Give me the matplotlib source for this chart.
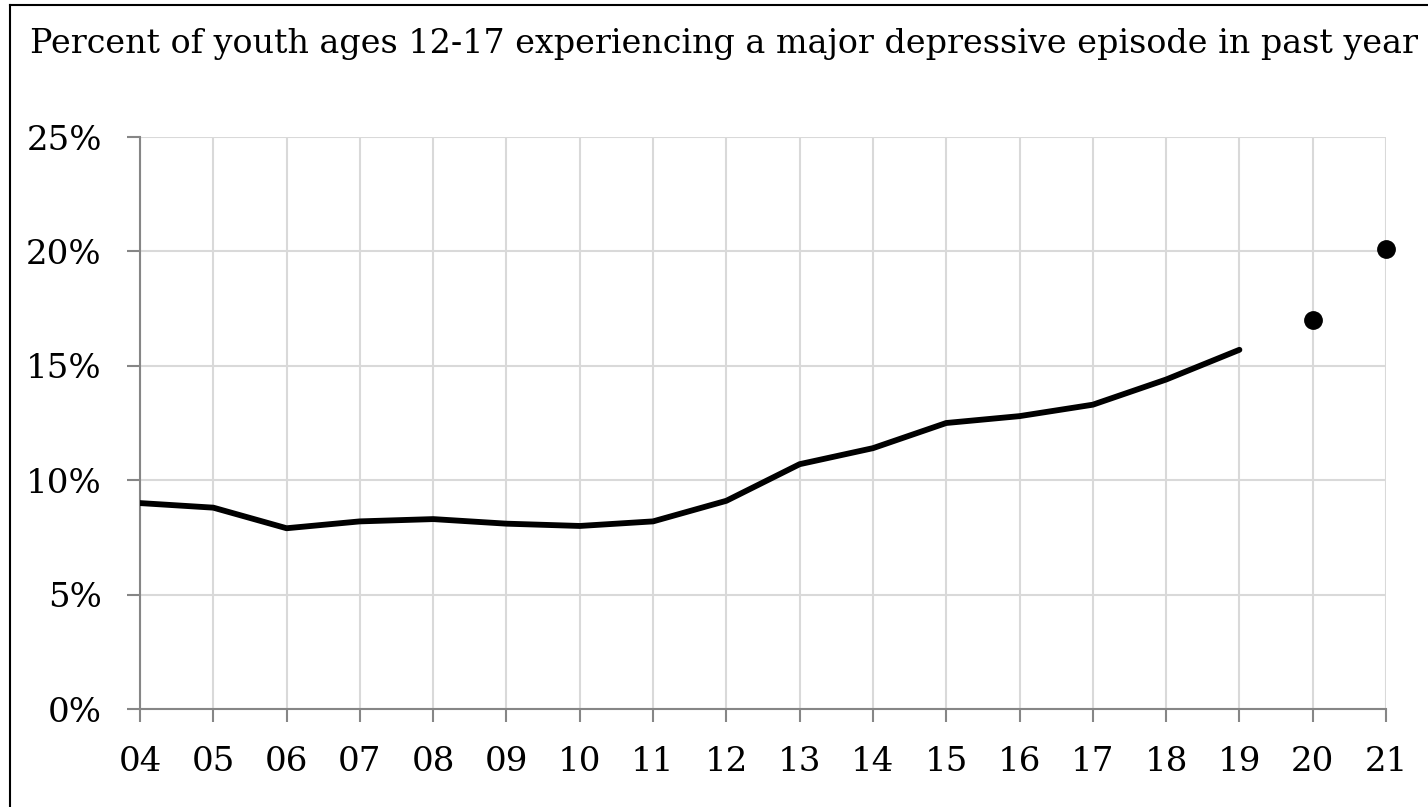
import matplotlib
matplotlib.use('Agg')
import matplotlib.pyplot as plt
from matplotlib.lines import Line2D

plt.rcParams['font.family'] = ['DejaVu Serif']

# data
years = ['04', '05', '06', '07', '08', '09', '10', '11', '12',
         '13', '14', '15', '16', '17', '18', '19', '20', '21']
line_vals = [9.0, 8.8, 7.9, 8.2, 8.3, 8.1, 8.0, 8.2, 9.1,
             10.7, 11.4, 12.5, 12.8, 13.3, 14.4, 15.7]
dot_vals = [17.0, 20.1]
yticks = [0, 5, 10, 15, 20, 25]
title = 'Percent of youth ages 12-17 experiencing a major depressive episode in past year'

W, H = 1428, 807
fig = plt.figure(figsize=(W / 100, H / 100), dpi=100)
ax = fig.add_axes([140 / W, 1 - 709 / H, (1386 - 140) / W, (709 - 137) / H])

x = list(range(len(years)))
ax.plot(x[:len(line_vals)], line_vals, color='black', lw=4.2,
        solid_joinstyle='round', solid_capstyle='round', zorder=3)
ax.plot(x[len(line_vals):], dot_vals, 'o', color='black', ms=12.5,
        zorder=3, clip_on=False)

ax.set_xlim(0, len(years) - 1)
ax.set_ylim(0, 25)
ax.set_xticks(x)
ax.set_xticklabels(years)
ax.set_yticks(yticks)
ax.set_yticklabels([f'{v}%' for v in yticks])

ax.grid(True, color='#d9d9d9', lw=1.5)
ax.set_axisbelow(True)
for s in ['top', 'right']:
    ax.spines[s].set_visible(False)
for s in ['left', 'bottom']:
    ax.spines[s].set_color('#868686')
    ax.spines[s].set_linewidth(1.5)
ax.tick_params(axis='both', direction='out', length=9.5, width=1.5,
               color='#868686', labelsize=24.5, labelcolor='black')
ax.tick_params(axis='y', pad=18)
ax.tick_params(axis='x', pad=17)

fig.text(30 / W, 1 - 53 / H, title, fontsize=24, ha='left',
         va='baseline', color='black')

# border on top and left of the picture
fig.add_artist(Line2D([10 / W, 10 / W], [0, 1 - 5 / H],
                      transform=fig.transFigure, color='black', lw=1.5))
fig.add_artist(Line2D([10 / W, 1], [1 - 5 / H, 1 - 5 / H],
                      transform=fig.transFigure, color='black', lw=1.5))

fig.savefig('out.png', dpi=100)
